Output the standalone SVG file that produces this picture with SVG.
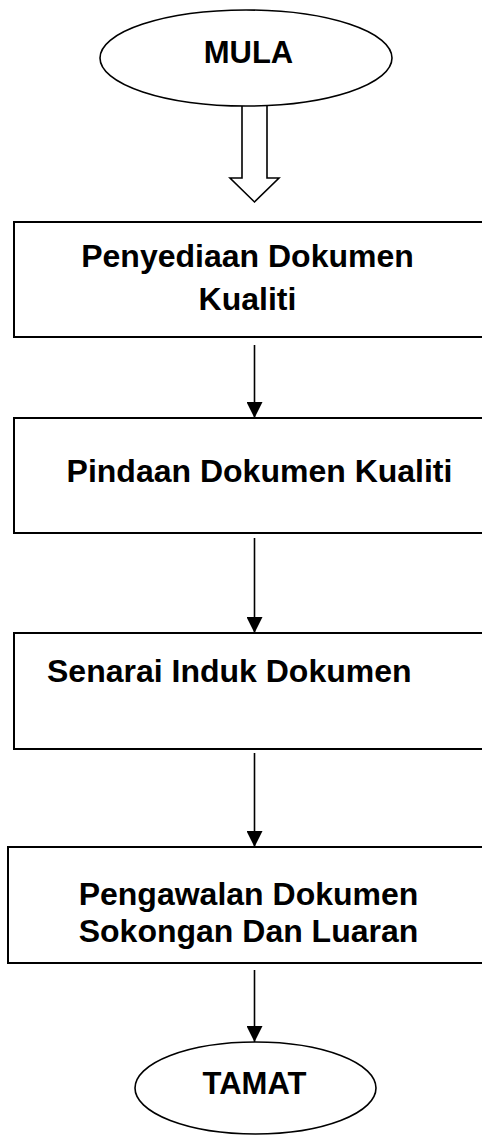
<svg xmlns="http://www.w3.org/2000/svg" width="482" height="1136" viewBox="0 0 482 1136">
<style>
.box{fill:#fff;stroke:#000;stroke-width:2}
.term{fill:#fff;stroke:#000;stroke-width:1.6}
.t{font-family:"Liberation Sans",Arial,sans-serif;font-weight:bold;font-size:32px;fill:#000}
.tt{font-family:"Liberation Sans",Arial,sans-serif;font-weight:bold;font-size:31px;fill:#000}
.c{text-anchor:middle}
.ln{stroke:#000;stroke-width:1.6;fill:none}
</style>
<defs>
<marker id="ah" markerWidth="16" markerHeight="16" refX="16" refY="8" orient="auto" markerUnits="userSpaceOnUse" viewBox="0 0 16 16">
<path d="M0,0 L16,8 L0,16 Z" fill="#000"/>
</marker>
</defs>
<rect width="482" height="1136" fill="#fff"/>
<g id="mula">
<ellipse class="term" cx="246" cy="58" rx="146" ry="48"/>
<text class="tt c" x="248.5" y="63">MULA</text>
</g>
<g id="penyediaan">
<rect class="box" x="14" y="222" width="480" height="115"/>
<text class="t c" x="247.5" y="267">Penyediaan Dokumen</text>
<text class="t c" x="247.5" y="310">Kualiti</text>
</g>
<g id="pindaan">
<rect class="box" x="14" y="418" width="480" height="115"/>
<text class="t c" x="259.5" y="482">Pindaan Dokumen Kualiti</text>
</g>
<g id="senarai">
<rect class="box" x="14" y="633" width="480" height="116"/>
<text class="t" x="47" y="682">Senarai Induk Dokumen</text>
</g>
<g id="pengawalan">
<rect class="box" x="8" y="847" width="490" height="116"/>
<text class="t c" x="248.5" y="905">Pengawalan Dokumen</text>
<text class="t c" x="248.5" y="942">Sokongan Dan Luaran</text>
</g>
<g id="tamat">
<ellipse class="term" cx="255.5" cy="1088" rx="120.5" ry="46"/>
<text class="tt c" x="254.5" y="1094">TAMAT</text>
</g>
<g id="connectors">
<path class="ln" d="M242,106 L242,178 L230,178 L254.5,202 L279,178 L267,178 L267,106" fill="#fff"/>
<line class="ln" x1="254.5" y1="345" x2="254.5" y2="418" marker-end="url(#ah)"/>
<line class="ln" x1="254.5" y1="538" x2="254.5" y2="633" marker-end="url(#ah)"/>
<line class="ln" x1="254.5" y1="753" x2="254.5" y2="847" marker-end="url(#ah)"/>
<line class="ln" x1="254.5" y1="970" x2="254.5" y2="1042" marker-end="url(#ah)"/>
</g>
</svg>
